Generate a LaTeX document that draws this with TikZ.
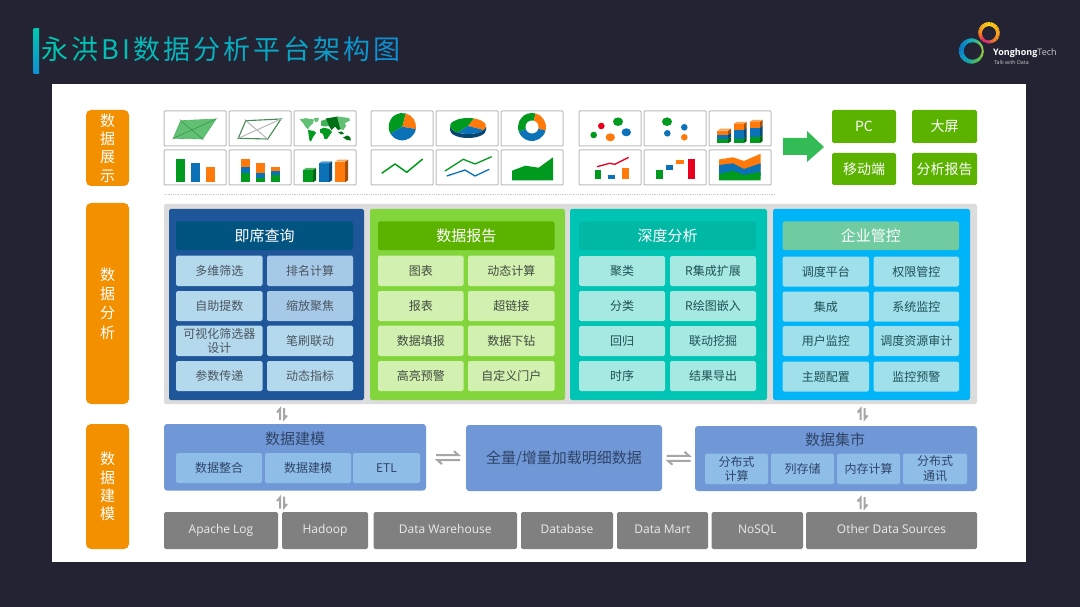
\documentclass[tikz,border=0pt]{standalone}
\usepackage{fontspec}
\setmainfont{Noto Sans CJK SC}
\newfontfamily\lat{Open Sans}
\usetikzlibrary{calc}
\definecolor{bgd}{HTML}{232333}
\definecolor{org}{HTML}{F39000}
\definecolor{gry}{HTML}{DCDCDC}
\definecolor{pA}{HTML}{1F5599}
\definecolor{hA}{HTML}{00547F}
\definecolor{cA}{HTML}{B4D8EC}
\definecolor{dA}{HTML}{A6C9E8}
\definecolor{pB}{HTML}{82D53A}
\definecolor{hB}{HTML}{5BB300}
\definecolor{cB}{HTML}{D2F0B0}
\definecolor{pC}{HTML}{00C4B4}
\definecolor{hC}{HTML}{00B8A4}
\definecolor{cC}{HTML}{A6E8E2}
\definecolor{pD}{HTML}{00B4F8}
\definecolor{hD}{HTML}{70CBA0}
\definecolor{cD}{HTML}{A0E0EA}
\definecolor{mdl}{HTML}{7098D6}
\definecolor{mdc}{HTML}{8EBDE8}
\definecolor{srcg}{HTML}{808080}
\definecolor{arrg}{HTML}{A6A6A6}
\definecolor{txa}{HTML}{4A5560}
\definecolor{txb}{HTML}{404A40}
\definecolor{txc}{HTML}{1F5055}
\definecolor{txm}{HTML}{2F4468}
\definecolor{tg}{HTML}{009A1E}
\definecolor{tb}{HTML}{0B72B8}
\definecolor{to}{HTML}{FF7A0A}
\definecolor{tr}{HTML}{E8001E}
\definecolor{frm}{HTML}{BBBBBB}
\definecolor{ttA}{HTML}{00C6B0}
\definecolor{ttB}{HTML}{0E90D2}
\definecolor{garr}{HTML}{33BB55}
\definecolor{divc}{HTML}{C8C8C8}
\tikzset{
  x=1pt,y=-1pt,
  yhbase/.style={inner sep=0pt,outer sep=0pt,align=center,rounded corners=1.6pt},
  sidebox/.style={yhbase,fill=org,text=white,font=\fontsize{15}{18.2}\selectfont,rounded corners=5pt},
  chartframe/.style={yhbase,fill=white,draw=frm,line width=1pt,rounded corners=0.8pt},
  outbox/.style={yhbase,fill=hB,text=white,font=\fontsize{14}{17}\selectfont},
  hdrbox/.style={yhbase,text=white,font=\fontsize{15}{18}\selectfont},
  cellbox/.style={yhbase,font=\fontsize{12}{14.5}\selectfont},
  mdlbox/.style={yhbase,fill=mdl,text=txm,font=\fontsize{15}{18}\selectfont,rounded corners=3pt},
  mdlcell/.style={yhbase,fill=mdc,text=txm,font=\fontsize{12}{14.5}\selectfont},
  srcbox/.style={yhbase,fill=srcg,text=white!92!black,font=\lat\fontsize{12}{14}\selectfont,text height=9pt,text depth=3pt},
  harp/.style={draw=arrg,line width=2pt,line cap=butt,line join=miter},
  thinline/.style={line width=1.3pt,line join=round},
}
\newcommand{\yhb}[7]{%
  \pgfmathsetmacro\cxx{(#3+#5)/2}\pgfmathsetmacro\cyy{(#4+#6)/2}%
  \pgfmathsetmacro\wdd{#5-#3}\pgfmathsetmacro\htt{#6-#4}%
  \node[#1,minimum width=\wdd pt,minimum height=\htt pt] (#2) at (\cxx,\cyy) {#7};}
\newcommand{\tch}[2]{{\color{ttA!#1!ttB}#2}\kern3.05pt}
\newcommand{\cub}[5]{%
  \fill[#5!65!black] (#3,#2) -- ++(3,-2) -- (#3+3,#4-2) -- (#3,#4) -- cycle;
  \fill[#5] (#1,#2) rectangle (#3,#4);}
\newcommand{\cubtop}[4]{\fill[#4!70!white] (#1,#2) -- ++(3,-2) -- (#3+3,#2-2) -- (#3,#2) -- cycle;}
\newcommand{\vharp}[1]{%
  \draw[harp] ($(#1)+(-2,6)$) -- ($(#1)+(-2,-5)$) -- ($(#1)+(-5,-1.5)$);
  \draw[harp] ($(#1)+(2,-6)$) -- ($(#1)+(2,5)$) -- ($(#1)+(5,1.5)$);}
\newcommand{\hharp}[1]{%
  \draw[harp] ($(#1)+(-12,-2.5)$) -- ($(#1)+(10.5,-2.5)$) -- ($(#1)+(6,-6.5)$);
  \draw[harp] ($(#1)+(12,2.5)$) -- ($(#1)+(-10.5,2.5)$) -- ($(#1)+(-6,6.5)$);}
\begin{document}
\begin{tikzpicture}
\useasboundingbox (0,0) rectangle (1080,607);
\fill[bgd] (0,0) rectangle (1080,607);
% title
\shade[top color=ttA,bottom color=ttB] (33.5,29) rectangle (39,74);
\node[anchor=west,inner sep=0pt,font=\fontsize{27}{30}\selectfont] (title) at (41,49.5) {%
\tch{100}{永}\tch{93}{洪}\tch{86}{B}\tch{82}{I}\tch{76}{数}\tch{68}{据}\tch{60}{分}\tch{52}{析}\tch{44}{平}\tch{36}{台}\tch{24}{架}\tch{12}{构}\tch{0}{图}};
% logo
\foreach \a/\c/\w in {
 0/98D048/2,20/80C840/2.4,40/60C048/3,60/50B860/3.4,80/30B088/3.8,100/18A8A0/4.1,120/10A0B8/4.4,140/0C98C8/4.7,160/0C88C8/4.8,180/0C80C4/4.8,200/0C84C8/4.7,220/0C90C8/4.4,240/10A0C0/4.1,260/18B0B0/3.8,280/30B898/3.2,300/60C070/2.7,320/80C850/2.2,340/98D048/1.8}{
  \definecolor{lgc}{HTML}{\c}
  \draw[lgc,line width=\w pt] (972,51)+(\a:10.8) arc[start angle=\a,end angle=\a+21,radius=10.8];
}
\foreach \a/\c/\w in {
 0/F8A020/3.6,20/F89020/3.6,40/F08028/3.4,60/E86838/3.2,80/E04868/2.9,100/E03070/2.6,120/E83060/3,140/F05040/3.4,160/F87028/3.6,180/F89020/3.8,200/F8A020/3.9,220/FCB818/4,240/FCC818/4,260/FCD018/4,280/FCC818/4,300/FCC018/3.9,320/FAB018/3.8,340/F8A820/3.6}{
  \definecolor{lgc}{HTML}{\c}
  \draw[lgc,line width=\w pt] (989,33)+(\a:9) arc[start angle=\a,end angle=\a+21,radius=9];
}
\node[anchor=west,inner sep=0pt,text=white,font=\lat\fontsize{9}{10}\selectfont] (logoname) at (993,53) {\textbf{Yonghong}{\color{white!80!black}Tech}};
\node[anchor=west,inner sep=0pt,text=white!80!black,font=\lat\fontsize{5.3}{6}\selectfont] (logotag) at (994,63) {Talk with Data};
% sheet
\fill[white] (52,84) rectangle (1026,562);
% side labels
\yhb{sidebox}{sA}{86}{110}{129}{186}{数\\据\\展\\示}
\yhb{sidebox}{sB}{86}{203}{129}{404}{数\\[1pt]据\\[1pt]分\\[1pt]析}
\yhb{sidebox}{sC}{86}{424}{129}{549}{数\\据\\建\\模}
% chart frames
\newcommand{\cf}[3]{\pgfmathsetmacro\xe{#2+62}\pgfmathsetmacro\ye{#3+35}\yhb{chartframe}{#1}{#2}{#3}{\xe}{\ye}{}}
\cf{fa}{164}{111}\cf{fb}{229}{111}\cf{fc}{294}{111}\cf{fd}{371}{111}\cf{fe}{436}{111}\cf{ff}{501}{111}\cf{fg}{579}{111}\cf{fh}{644}{111}\cf{fi}{709}{111}
\cf{ga}{164}{150}\cf{gb}{229}{150}\cf{gc}{294}{150}\cf{gd}{371}{150}\cf{ge}{436}{150}\cf{gf}{501}{150}\cf{gg}{579}{150}\cf{gh}{644}{150}\cf{gi}{709}{150}
% radar filled
\begin{scope}[shift={(164,111)}]
 \draw[gray!45,line width=.5pt] (15.7,8) -- (40,29.5) (54,7) -- (7.5,28.3);
 \fill[tg!62!white,draw=tg!70!white,line width=.6pt] (16.7,9.7) -- (52,8) -- (38.7,28) -- (9.3,27.3) -- cycle;
 \draw[tg!60!gray,line width=.5pt] (16.7,9.7) -- (38.7,28) (52,8) -- (9.3,27.3);
\end{scope}
\begin{scope}[shift={(229,111)}]
 \draw[gray!45,line width=.5pt] (15.7,8) -- (40,29.5) (54,7) -- (7.5,28.3);
 \draw[tg!45!gray,line width=1.1pt] (16.7,9.7) -- (52,8) -- (38.7,28) -- (9.3,27.3) -- cycle;
 \draw[gray!55,line width=.9pt] (16.7,9.7) -- (38.7,28) (52,8) -- (9.3,27.3);
\end{scope}
% world map
\begin{scope}[shift={(294,111)}]
 \fill[tg!62!white] (5.7,8.3) -- (11.7,7.2) -- (20,8.5) -- (19,12.3) -- (16,15) -- (14,18.3) -- (11.7,16.3) -- (9.3,12.3) -- cycle;
 \fill[tg!62!white] (20,7.2) -- (25,6.8) -- (24,10.5) -- (21,11) -- cycle;
 \fill[tg] (14,19) -- (20,20) -- (22,22) -- (19,26) -- (17,30.5) -- (15.5,29.5) -- (14.5,23) -- cycle;
 \fill[tg] (26,18.3) -- (30,16.7) -- (35,18) -- (38,21) -- (35,25) -- (33,28) -- (30.5,28) -- (29,23) -- (26,21.5) -- cycle;
 \fill[tg!75!white] (27,10) -- (33,8) -- (35,15) -- (30,15.5) -- (27,14.5) -- cycle;
 \fill[tg!72!black] (32,7.5) -- (44,5.5) -- (45,12) -- (47,18) -- (44,19) -- (41,15.5) -- (37.5,19) -- (35,15) -- cycle;
 \fill[tg!62!white] (43,5.5) -- (55,7) -- (56,9.5) -- (51,12) -- (52,15) -- (49,19.5) -- (46,17) -- (44.5,11) -- cycle;
 \fill[tg!72!black] (44,21) -- (48,20.5) -- (50,23) -- (47,23.5) -- cycle;
 \fill[tg!72!black] (49,26.5) -- (53,24.5) -- (56,26) -- (57,29.5) -- (53,29) -- cycle;
\end{scope}
% pie
\begin{scope}[shift={(371,111)}]
 \fill[tg] (31.3,15.7) -- +(150:13.7) arc[start angle=150,end angle=285,radius=13.7] -- cycle;
 \fill[to] (31.3,15.7) -- +(285:13.7) arc[start angle=285,end angle=370,radius=13.7] -- cycle;
 \fill[tb] (31.3,15.7) -- +(10:13.7) arc[start angle=10,end angle=150,radius=13.7] -- cycle;
\end{scope}
% 3D pie
\begin{scope}[shift={(436,111)}]
 \fill[tb!60!black] (14,15) arc[start angle=180,end angle=0,x radius=18,y radius=8] -- ++(0,4) arc[start angle=0,end angle=180,x radius=18,y radius=8] -- cycle;
 \fill[tg] (32,15) -- +(125:18 and 8) arc[start angle=125,end angle=290,x radius=18,y radius=8] -- cycle;
 \fill[to] (32,15) -- +(290:18 and 8) arc[start angle=290,end angle=390,x radius=18,y radius=8] -- cycle;
 \fill[tb] (32,15) -- +(30:18 and 8) arc[start angle=30,end angle=125,x radius=18,y radius=8] -- cycle;
\end{scope}
% donut
\begin{scope}[shift={(501,111)}]
 \fill[tg] (31,16) -- +(160:14) arc[start angle=160,end angle=285,radius=14] -- cycle;
 \fill[to] (31,16) -- +(285:14) arc[start angle=285,end angle=375,radius=14] -- cycle;
 \fill[tb] (31,16) -- +(15:14) arc[start angle=15,end angle=160,radius=14] -- cycle;
 \fill[white] (31,16) circle[radius=6.5];
\end{scope}
% scatter 1
\begin{scope}[shift={(579,111)}]
 \fill[tr] (22.3,15) circle[radius=3.3];
 \fill[tg] (39,10.7) ellipse[x radius=5,y radius=4.3];
 \fill[tg] (14.7,24) circle[radius=3.3];
 \fill[to] (31.3,26.3) ellipse[x radius=4.7,y radius=4];
 \fill[tb] (47.3,21.3) ellipse[x radius=4.7,y radius=4];
\end{scope}
\begin{scope}[shift={(644,111)}]
 \fill[tg] (23,10.7) ellipse[x radius=5,y radius=4.3];
 \fill[tb] (40.3,16.3) circle[radius=3.3];
 \fill[tb] (23.3,22.3) circle[radius=3.3];
 \fill[to] (40.3,26.3) circle[radius=3.3];
\end{scope}
% 3D stacked
\begin{scope}[shift={(709,111)}]
 \cub{8.3}{19.7}{19}{24}{to}\cub{8.3}{24}{19}{28}{tb}\cub{8.3}{28}{19}{32.3}{tg}\cubtop{8.3}{19.7}{19}{to}
 \cub{24.5}{13}{34.5}{19}{to}\cub{24.5}{19}{34.5}{28}{tb}\cub{24.5}{28}{34.5}{32.3}{tg}\cubtop{24.5}{13}{34.5}{to}
 \cub{40.5}{11}{50.5}{17}{to}\cub{40.5}{17}{50.5}{26}{tb}\cub{40.5}{26}{50.5}{32.3}{tg}\cubtop{40.5}{11}{50.5}{to}
\end{scope}
% bars
\begin{scope}[shift={(164,150)}]
 \fill[tg] (12,9.3) rectangle (21,32.3);
 \fill[tb] (26.7,13.3) rectangle (36,32.3);
 \fill[to] (41.7,17.3) rectangle (51,32.3);
\end{scope}
\begin{scope}[shift={(229,150)}]
 \fill[to] (12,9.3) rectangle (21,16.7); \fill[tb] (12,16.7) rectangle (21,22.7); \fill[tg] (12,22.7) rectangle (21,32.3);
 \fill[to] (27,13.3) rectangle (36,23.3); \fill[tb] (27,23.3) rectangle (36,28.3); \fill[tg] (27,28.3) rectangle (36,32.3);
 \fill[to] (42,17.3) rectangle (51,20.7); \fill[tb] (42,20.7) rectangle (51,25.3); \fill[tg] (42,25.3) rectangle (51,32.3);
\end{scope}
\begin{scope}[shift={(294,150)}]
 \cub{9}{20}{19}{32.3}{tg}\cubtop{9}{20}{19}{tg}
 \cub{25}{13.3}{35}{32.3}{tb}\cubtop{25}{13.3}{35}{tb}
 \cub{41}{11.7}{51}{32.3}{to}\cubtop{41}{11.7}{51}{to}
\end{scope}
% lines
\begin{scope}[shift={(371,150)}]
 \draw[tg,thinline,line width=1.5pt] (10.7,23.3) -- (24,14) -- (35.7,22.3) -- (51.7,9);
\end{scope}
\begin{scope}[shift={(436,150)}]
 \draw[tg,thinline] (9,21) -- (27.3,9.3) -- (39,14) -- (55.7,6.7);
 \draw[tb,thinline] (10.7,26) -- (29,20) -- (39,26) -- (53.3,19.3);
\end{scope}
\begin{scope}[shift={(501,150)}]
 \fill[tg] (11,20.7) -- (24.3,15.7) -- (37.7,17.7) -- (52,7.3) -- (52,30.3) -- (11,30.3) -- cycle;
\end{scope}
% combo
\begin{scope}[shift={(579,150)}]
 \fill[tg] (15.7,20.3) rectangle (22.3,29.3);
 \fill[tb] (29.3,25.3) rectangle (36,29.3);
 \fill[to] (43,18.3) rectangle (49.7,29.3);
 \draw[tr,thinline] (18,16.7) -- (30.7,13.3) -- (35.7,14.3) -- (49.7,7.3);
\end{scope}
\begin{scope}[shift={(644,150)}]
 \fill[tg] (11.7,20.3) rectangle (19,29.3);
 \fill[tb] (22.3,14.7) rectangle (29,20.3);
 \fill[to] (32.3,10) rectangle (39.7,14);
 \fill[tr] (44,9.3) rectangle (51.3,29.3);
\end{scope}
\begin{scope}[shift={(709,150)}]
 \fill[to] (10,9.5) -- (24,7.3) -- (35,11) -- (51.7,3.7) -- (51.7,20) -- (10,20) -- cycle;
 \fill[tb] (10,15) -- (24,13.3) -- (35,19) -- (51.7,13.3) -- (51.7,26) -- (10,26) -- cycle;
 \fill[tg] (10,24) -- (24,20.7) -- (35,25) -- (51.7,21.7) -- (51.7,30.3) -- (10,30.3) -- cycle;
\end{scope}
% divider
\coordinate (divL) at (164,194);
\coordinate (divR) at (775,194);
\draw[divc,line width=.8pt,densely dotted] (divL) -- (divR);
% green arrow
\fill[garr] (783,138) -- (807,138) -- (807,131) -- (824,147) -- (807,162) -- (807,155) -- (783,155) -- cycle;
% outputs
\yhb{outbox}{oa}{832}{110}{896}{143}{PC}
\yhb{outbox}{ob}{912}{110}{977}{143}{大屏}
\yhb{outbox}{oc}{832}{153}{896}{185}{移动端}
\yhb{outbox}{od}{912}{153}{977}{185}{分析报告}
% analysis background
\yhb{yhbase,fill=gry}{bgana}{164}{204}{977}{404}{}
\yhb{yhbase,fill=pA}{pa}{169}{209}{364}{400}{}
\yhb{yhbase,fill=pB}{pb}{370}{209}{565}{400}{}
\yhb{yhbase,fill=pC}{pc}{570}{209}{767}{400}{}
\yhb{yhbase,fill=pD}{pd}{773}{209}{970}{400}{}
% panel A
\yhb{hdrbox,fill=hA}{ha}{176}{221.5}{353}{250}{即席查询}
\tikzset{cellA/.style={cellbox,fill=cA,text=txa},cellAd/.style={cellbox,fill=dA,text=txa}}
\yhb{cellA}{a1}{176}{255.5}{262.5}{286}{多维筛选}
\yhb{cellAd}{a2}{267}{255.5}{353}{286}{排名计算}
\yhb{cellA}{a3}{176}{291}{262.5}{321}{自助提数}
\yhb{cellAd}{a4}{267}{291}{353}{321}{缩放聚焦}
\yhb{cellA}{a5}{176}{325.5}{262.5}{356}{可视化筛选器\\设计}
\yhb{cellA}{a6}{267}{325.5}{353}{356}{笔刷联动}
\yhb{cellA}{a7}{176}{361}{262.5}{391}{参数传递}
\yhb{cellA}{a8}{267}{361}{353}{391}{动态指标}
% panel B
\yhb{hdrbox,fill=hB}{hb}{378}{221.5}{554.5}{250}{数据报告}
\tikzset{cellB/.style={cellbox,fill=cB,text=txb}}
\yhb{cellB}{b1}{378}{255.5}{463.5}{286}{图表}
\yhb{cellB}{b2}{468}{255.5}{554.5}{286}{动态计算}
\yhb{cellB}{b3}{378}{291}{463.5}{321}{报表}
\yhb{cellB}{b4}{468}{291}{554.5}{321}{超链接}
\yhb{cellB}{b5}{378}{325.5}{463.5}{356}{数据填报}
\yhb{cellB}{b6}{468}{325.5}{554.5}{356}{数据下钻}
\yhb{cellB}{b7}{378}{361}{463.5}{391}{高亮预警}
\yhb{cellB}{b8}{468}{361}{554.5}{391}{自定义门户}
% panel C
\yhb{hdrbox,fill=hC}{hc}{579}{221.5}{756}{250}{深度分析}
\tikzset{cellC/.style={cellbox,fill=cC,text=txc}}
\yhb{cellC}{c1}{579}{256}{665}{286}{聚类}
\yhb{cellC}{c2}{670}{256}{756}{286}{R集成扩展}
\yhb{cellC}{c3}{579}{291}{665}{321}{分类}
\yhb{cellC}{c4}{670}{291}{756}{321}{R绘图嵌入}
\yhb{cellC}{c5}{579}{326}{665}{356}{回归}
\yhb{cellC}{c6}{670}{326}{756}{356}{联动挖掘}
\yhb{cellC}{c7}{579}{361}{665}{391}{时序}
\yhb{cellC}{c8}{670}{361}{756}{391}{结果导出}
% panel D
\yhb{hdrbox,fill=hD}{hd}{782.5}{221.5}{959}{250}{企业管控}
\tikzset{cellD/.style={cellbox,fill=cD,text=txc}}
\yhb{cellD}{d1}{782.5}{256.5}{869}{286.5}{调度平台}
\yhb{cellD}{d2}{873.5}{256.5}{959}{286.5}{权限管控}
\yhb{cellD}{d3}{782.5}{291.5}{869}{321.5}{集成}
\yhb{cellD}{d4}{873.5}{291.5}{959}{321.5}{系统监控}
\yhb{cellD}{d5}{782.5}{326}{869}{356}{用户监控}
\yhb{cellD}{d6}{873.5}{326}{959}{356}{调度资源审计}
\yhb{cellD}{d7}{782.5}{361.5}{869}{391.5}{主题配置}
\yhb{cellD}{d8}{873.5}{361.5}{959}{391.5}{监控预警}
% modelling row
\yhb{mdlbox}{mA}{164}{424}{426}{490.5}{}
\node[inner sep=0pt,text=txm,font=\fontsize{15}{18}\selectfont] (mAt) at (295,439) {数据建模};
\yhb{mdlcell}{mA1}{176}{453}{262}{483}{数据整合}
\yhb{mdlcell}{mA2}{265}{453}{351}{483}{数据建模}
\yhb{mdlcell}{mA3}{353}{453}{420}{483}{ETL}
\yhb{mdlbox}{mB}{466}{425}{662}{491}{全量/增量加载明细数据}
\yhb{mdlbox}{mC}{695}{426}{977}{491}{}
\node[inner sep=0pt,text=txm,font=\fontsize{15}{18}\selectfont] (mCt) at (835,440) {数据集市};
\yhb{mdlcell}{mC1}{705}{453.5}{768}{484}{分布式\\计算}
\yhb{mdlcell}{mC2}{771}{453.5}{834}{484}{列存储}
\yhb{mdlcell}{mC3}{837}{453.5}{900}{484}{内存计算}
\yhb{mdlcell}{mC4}{903}{453.5}{967}{484}{分布式\\通讯}
% sources
\yhb{srcbox}{s1}{164}{512}{278}{549}{Apache Log}
\yhb{srcbox}{s2}{282}{512}{368}{549}{Hadoop}
\yhb{srcbox}{s3}{373.5}{512}{517}{549}{Data Warehouse}
\yhb{srcbox}{s4}{521}{512}{613}{549}{Database}
\yhb{srcbox}{s5}{617}{512}{708}{549}{Data Mart}
\yhb{srcbox}{s6}{711.5}{512}{803}{549}{NoSQL}
\yhb{srcbox}{s7}{806}{512}{977}{549}{Other Data Sources}
% connectors
\coordinate (v1) at (282,414);
\coordinate (v2) at (282,502.5);
\coordinate (v3) at (862.5,414);
\coordinate (v4) at (862.5,503);
\coordinate (h1) at ($(mA.east)!0.55!(mB.west)$);
\coordinate (h2) at ($(mB.east)!0.5!(mC.west)$);
\vharp{v1}\vharp{v2}\vharp{v3}\vharp{v4}
\hharp{h1}\hharp{h2}
\end{tikzpicture}
\end{document}
